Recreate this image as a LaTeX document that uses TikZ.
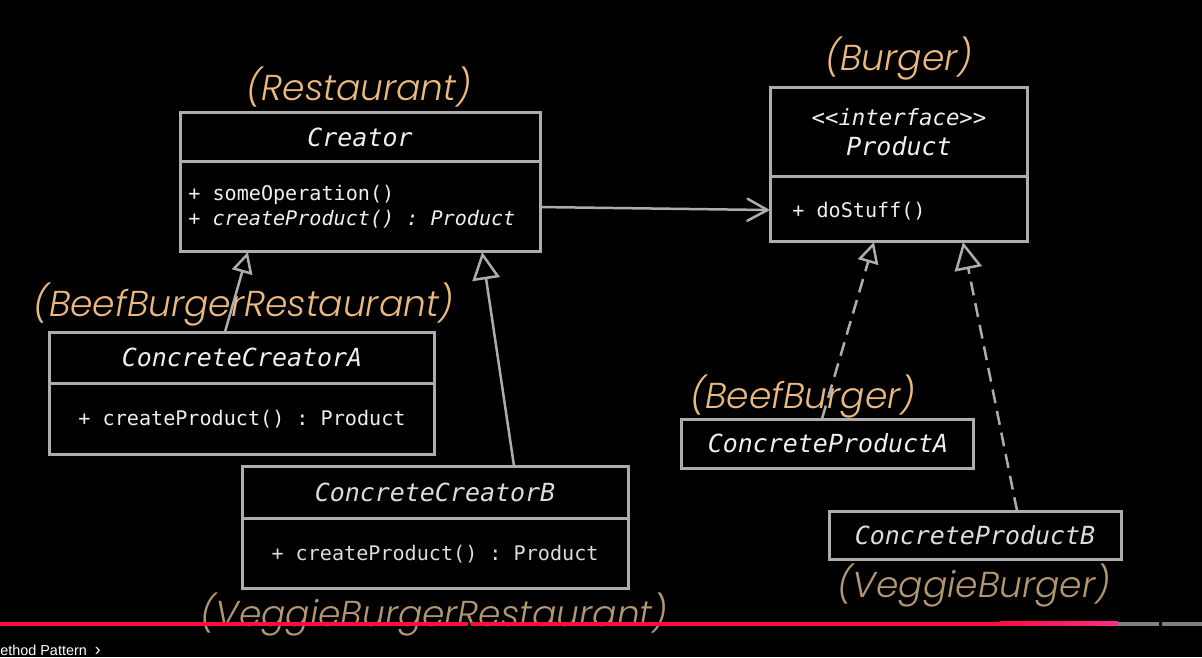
\documentclass[tikz,border=0pt]{standalone}
\usepackage{fontspec}
\setmonofont{DejaVu Sans Mono}
\newfontfamily\lblfont{Poppins Light Italic}
\newfontfamily\ytfont{Liberation Sans}
\usetikzlibrary{arrows.meta,calc}
\definecolor{boxgray}{HTML}{ADADAD}
\definecolor{txtwhite}{HTML}{EFEFEF}
\definecolor{txtdim}{HTML}{DCDCDC}
\definecolor{lblorange}{HTML}{EBB97F}
\definecolor{lbltan}{HTML}{B39672}
\definecolor{ytred}{HTML}{FF0D3F}
\definecolor{ytpink}{HTML}{FF2A8A}
\definecolor{ytgray}{HTML}{808080}
\begin{document}
\begin{tikzpicture}[x=0.02cm,y=-0.02cm,
  umlbox/.style={draw=boxgray, line width=0.06cm, inner sep=0, outer sep=0, anchor=north west, fill=black},
  divider/.style={draw=boxgray, line width=0.06cm},
  titletxt/.style={font=\ttfamily\itshape\fontsize{14.2}{16}\selectfont, text=txtwhite, inner sep=0},
  ifacetxt/.style={font=\ttfamily\itshape\fontsize{12.7}{15}\selectfont, text=txtwhite, inner sep=0},
  methtxt/.style={font=\ttfamily\fontsize{11.45}{13}\selectfont, text=txtwhite, inner sep=0},
  lbltxt/.style={font=\lblfont\fontsize{20.5}{24}\selectfont, text=lblorange, inner sep=0},
  genarrow/.style={draw=boxgray, line width=0.05cm, -{Triangle[open,length=#1,width=#1]}},
  realarrow/.style={draw=boxgray, line width=0.05cm, dash pattern=on 0.28cm off 0.16cm, -{Triangle[open,length=#1,width=#1]}},
  assocarrow/.style={draw=boxgray, line width=0.05cm, line cap=round, -{Straight Barb[length=0.4cm,width=0.44cm,line cap=round]}}
]
\fill[black] (0,0) rectangle (1202,657);
\useasboundingbox (0,0) rectangle (1202,657);

% ---- boxes ----
\node[umlbox, minimum width=7.22cm, minimum height=2.80cm] (creator) at (180,112) {};
\node[umlbox, minimum width=5.16cm, minimum height=3.10cm] (product) at (770,87) {};
\node[umlbox, minimum width=7.72cm, minimum height=2.46cm] (cca) at (49,332) {};
\node[umlbox, minimum width=7.74cm, minimum height=2.46cm] (ccb) at (242,466) {};
\node[umlbox, minimum width=5.86cm, minimum height=0.98cm] (cpa) at (681,419) {};
\node[umlbox, minimum width=5.86cm, minimum height=0.96cm] (cpb) at (829,511) {};

% dividers
\draw[divider] ($(creator.north west)+(0,49)$) -- ($(creator.north east)+(0,49)$);
\draw[divider] ($(product.north west)+(0,89)$) -- ($(product.north east)+(0,89)$);
\draw[divider] ($(cca.north west)+(0,51)$) -- ($(cca.north east)+(0,51)$);
\draw[divider] ($(ccb.north west)+(0,52)$) -- ($(ccb.north east)+(0,52)$);

% ---- box texts ----
\node[titletxt] (creatorT) at (360,137) {Creator};
\node[methtxt, anchor=west] (creatorM1) at (188,195) {+ someOperation()};
\node[methtxt, anchor=west, font=\ttfamily\itshape\fontsize{11.45}{13}\selectfont] (creatorM2) at (188,219) {+ createProduct() : Product};

\node[ifacetxt] (productS) at (899,117) {<<interface>>};
\node[titletxt] (productT) at (899,146) {Product};
\node[methtxt, anchor=west] (productM) at (792,211) {+ doStuff()};

\node[titletxt] (ccaT) at (242,357) {ConcreteCreatorA};
\node[methtxt] (ccaM) at (242,419) {+ createProduct() : Product};

\node[titletxt, text=txtdim] (ccbT) at (435,492) {ConcreteCreatorB};
\node[methtxt, text=txtdim] (ccbM) at (435,554) {+ createProduct() : Product};

\node[titletxt] (cpaT) at (828,443) {ConcreteProductA};
\node[titletxt, text=txtdim] (cpbT) at (975,535) {ConcreteProductB};

% ---- labels ----
\node[lbltxt] (lblRest) at (359,87) {(Restaurant)};
\node[lbltxt] (lblBurger) at (899,58) {(Burger)};
\node[lbltxt] (lblBBR) at (244,304) {(BeefBurgerRestaurant)};
\node[lbltxt] (lblBB) at (803,396) {(BeefBurger)};
\node[lbltxt, text=lbltan] (lblVB) at (974,585) {(VeggieBurger)};
\node[lbltxt, text=lbltan] (lblVBR) at (434,614) {(VeggieBurgerRestaurant)};

% ---- connectors ----
\draw[assocarrow] ($(creator.north east)!0.679!(creator.south east)$) -- ($(product.north west)!0.794!(product.south west)$);
\draw[genarrow=0.42cm] ($(cca.north west)!0.456!(cca.north east)$) -- ($(creator.south west)!0.188!(creator.south east)$);
\draw[genarrow=0.55cm] ($(ccb.north west)!0.703!(ccb.north east)$) -- ($(creator.south west)!0.837!(creator.south east)$);
\draw[realarrow=0.42cm] ($(cpa.north west)!0.481!(cpa.north east)$) -- ($(product.south west)!0.403!(product.south east)$);
\draw[realarrow=0.55cm] ($(cpb.north west)!0.642!(cpb.north east)$) -- ($(product.south west)!0.748!(product.south east)$);

% ---- video progress bar ----
\coordinate (barA) at (0,623.5);
\coordinate (barB) at (468,623.5);
\coordinate (barC) at (471,623.5);
\coordinate (barD) at (1000,623.5);
\coordinate (barE) at (1118,623.5);
\coordinate (barF) at (1159,623.5);
\coordinate (barG) at (1162,623.5);
\coordinate (barH) at (1202,623.5);
\draw[ytred, line width=0.08cm] (barA) -- (barB);
\draw[ytred, line width=0.08cm] (barC) -- (barD);
\shade[left color=ytred, right color=ytpink] ($(barD)+(0,-2)$) rectangle ($(barE)+(0,2)$);
\draw[ytgray, line width=0.08cm] (barE) -- (barF);
\draw[ytgray, line width=0.08cm] (barG) -- (barH);
\node[font=\ytfont\fontsize{8.2}{10}\selectfont, text=white, anchor=base west, inner sep=0] (ytchap) at (0,655) {ethod Pattern \ {\fontsize{10}{10}\selectfont\char"203A}};
\end{tikzpicture}
\end{document}
